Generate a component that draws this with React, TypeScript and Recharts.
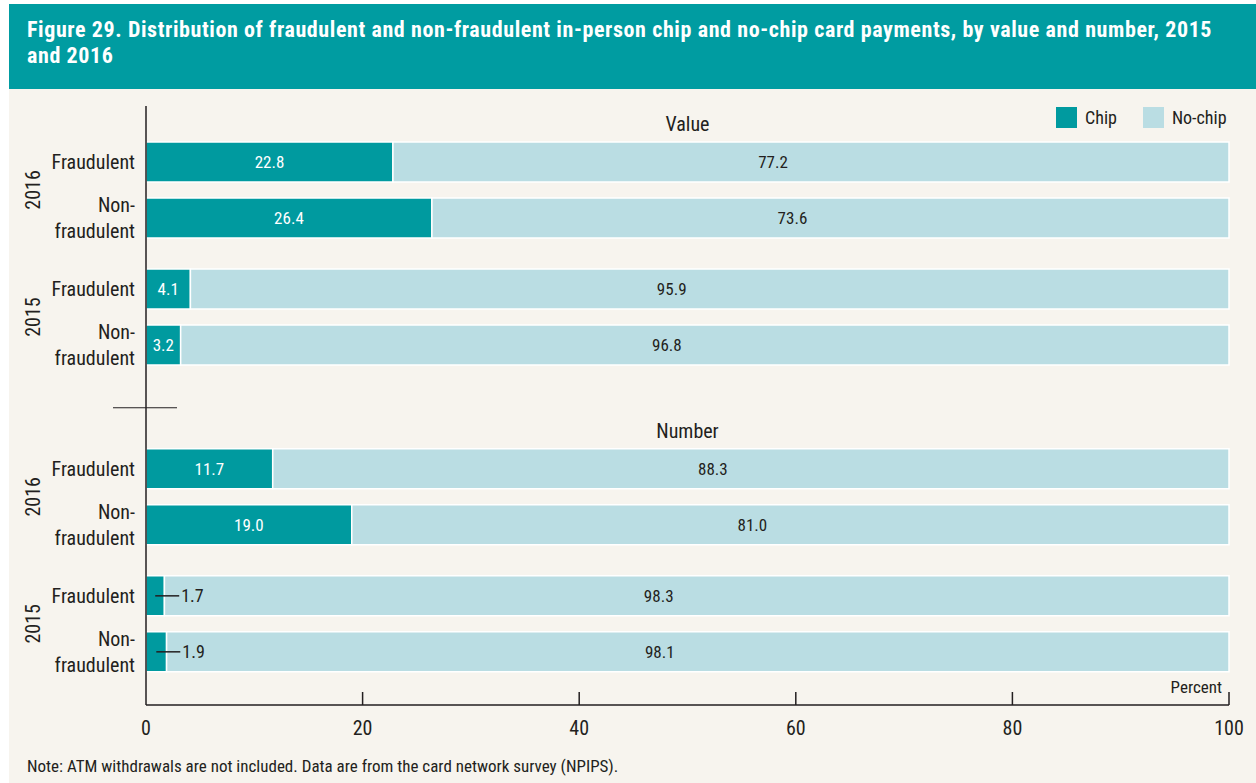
import { BarChart, Bar, XAxis, YAxis, LabelList, Legend } from 'recharts';

const panels = ['Value', 'Number'];
const years = ['2016', '2015'];
const categories = ['Fraudulent', 'Non-fraudulent'];

// order: 2016 fraudulent, 2016 non-fraudulent, 2015 fraudulent, 2015 non-fraudulent
const valueChip = [22.8, 26.4, 4.1, 3.2];
const valueNoChip = [77.2, 73.6, 95.9, 96.8];
const numberChip = [11.7, 19.0, 1.7, 1.9];
const numberNoChip = [88.3, 81.0, 98.3, 98.1];

const xTicks = [0, 20, 40, 60, 80, 100];

const CHIP = '#009a9f';
const NOCHIP = '#badde3';
const BG = '#f7f4ee';
const INK = '#231f20';
const FONT = '"Liberation Sans Narrow", "Roboto Condensed", "Arial Narrow", sans-serif';

// row spacing in row units (one unit = gap between the two rows of a year)
const YEAR_STEP = 2.27;
const PANEL_STEP = 5.48;

const chipSets = [valueChip, numberChip];
const noChipSets = [valueNoChip, numberNoChip];

const rows = panels.flatMap((panel, p) =>
  years.flatMap((year, yi) =>
    categories.map((cat, c) => {
      const i = yi * 2 + c;
      return {
        panel,
        year,
        cat,
        p,
        yi,
        c,
        pos: p * PANEL_STEP + yi * YEAR_STEP + c,
        chip: chipSets[p][i],
        nochip: noChipSets[p][i],
      };
    })
  )
);

function RowTick(props: any) {
  const { x, y, payload } = props;
  const row = rows.find((r) => Math.abs(r.pos - payload.value) < 1e-6);
  if (!row) return null;
  return (
    <g fontFamily={FONT} fontSize={20} fill={INK}>
      {row.c === 0 ? (
        <text x={x} y={y} textAnchor="end" dominantBaseline="central">
          {row.cat}
        </text>
      ) : (
        <text x={x} textAnchor="end" dominantBaseline="central">
          <tspan x={x} y={y - 13}>Non-</tspan>
          <tspan x={x} y={y + 13}>fraudulent</tspan>
        </text>
      )}
      {row.c === 0 && (
        <text
          x={33}
          y={y + 28}
          textAnchor="middle"
          dominantBaseline="central"
          transform={`rotate(-90 33 ${y + 28})`}
        >
          {row.year}
        </text>
      )}
      {row.c === 0 && row.yi === 0 && (
        <text x={687.5} y={y - 38} textAnchor="middle" dominantBaseline="central">
          {row.panel}
        </text>
      )}
      {row.p === 1 && row.c === 0 && row.yi === 0 && (
        <line x1={113} x2={177} y1={y - 61} y2={y - 61} stroke={INK} strokeWidth={1.2} />
      )}
    </g>
  );
}

function PercentTick(props: any) {
  const { x, y, payload } = props;
  return (
    <g fontFamily={FONT} fill={INK}>
      {payload.value !== 0 && <line x1={x} x2={x} y1={y} y2={y - 13} stroke={INK} strokeWidth={1.5} />}
      <text x={x} y={y + 23} textAnchor="middle" dominantBaseline="central" fontSize={20}>
        {payload.value}
      </text>
      {payload.value === 100 && (
        <text x={x - 7} y={y - 12} textAnchor="end" fontSize={17}>
          Percent
        </text>
      )}
    </g>
  );
}

function ChipLabel(props: any) {
  const { x, y, width, height, value } = props;
  const cy = y + height / 2;
  if (value < 3) {
    const cx = x + width / 2;
    return (
      <g>
        <line x1={cx} x2={cx + 24} y1={cy} y2={cy} stroke={INK} strokeWidth={1.5} />
        <text x={cx + 26} y={cy} dominantBaseline="central" fontFamily={FONT} fontSize={18} fill={INK}>
          {value.toFixed(1)}
        </text>
      </g>
    );
  }
  return (
    <text x={x + width / 2} y={cy} textAnchor="middle" dominantBaseline="central" fontFamily={FONT} fontSize={17} fill="#fff">
      {value.toFixed(1)}
    </text>
  );
}

function NoChipLabel(props: any) {
  const { x, y, width, height, value } = props;
  return (
    <text x={x + width / 2 - 38} y={y + height / 2} textAnchor="middle" dominantBaseline="central" fontFamily={FONT} fontSize={17} fill={INK}>
      {value.toFixed(1)}
    </text>
  );
}

function LegendBox() {
  const item = (color: string, label: string) => (
    <div style={{ display: 'flex', alignItems: 'center', marginRight: 26 }}>
      <div style={{ width: 21, height: 21, background: color, marginRight: 8 }} />
      <span style={{ fontFamily: FONT, fontSize: 18, color: INK }}>{label}</span>
    </div>
  );
  return (
    <div style={{ display: 'flex' }}>
      {item(CHIP, 'Chip')}
      {item(NOCHIP, 'No-chip')}
    </div>
  );
}

export default function App() {
  return (
    <div style={{ position: 'absolute', left: 0, top: 0, width: 1256, height: 783, background: '#fff', overflow: 'hidden' }}>
      <div
        style={{
          position: 'absolute',
          left: 9,
          top: 4,
          width: 1247,
          height: 85,
          background: '#009ca1',
          color: '#fff',
          fontFamily: FONT,
          fontWeight: 'bold',
          fontSize: 22,
          letterSpacing: 0.6,
          lineHeight: '26px',
          padding: '13px 18px 0 18px',
          boxSizing: 'border-box',
        }}
      >
        Figure 29. Distribution of fraudulent and non-fraudulent in-person chip and no-chip card payments, by value and number, 2015 and 2016
      </div>
      <div style={{ position: 'absolute', left: 9, top: 89, width: 1247, height: 694, background: BG }} />
      <div style={{ position: 'absolute', left: 0, top: 0 }}>
        <BarChart
          width={1256}
          height={783}
          layout="vertical"
          data={rows}
          margin={{ top: 106, right: 27, left: 0, bottom: 48 }}
          barSize={40}
        >
          <XAxis
            type="number"
            domain={[0, 100]}
            ticks={xTicks}
            interval={0}
            height={30}
            tickSize={0}
            tickMargin={0}
            tickLine={false}
            axisLine={{ stroke: INK, strokeWidth: 1.5 }}
            tick={<PercentTick />}
          />
          <YAxis
            type="number"
            dataKey="pos"
            domain={[-1, 9.7]}
            allowDataOverflow
            ticks={rows.map((r) => r.pos)}
            interval={0}
            width={146}
            tickSize={0}
            tickMargin={11}
            tickLine={false}
            axisLine={{ stroke: INK, strokeWidth: 1.5 }}
            tick={<RowTick />}
          />
          <Legend
            layout="horizontal"
            verticalAlign="middle"
            align="center"
            wrapperStyle={{ top: 107, left: 1056, width: 200 }}
            content={<LegendBox />}
          />
          <Bar dataKey="chip" stackId="s" fill={CHIP} stroke="#fff" strokeWidth={1.5} isAnimationActive={false}>
            <LabelList dataKey="chip" content={<ChipLabel />} />
          </Bar>
          <Bar dataKey="nochip" stackId="s" fill={NOCHIP} stroke="#fff" strokeWidth={1.5} isAnimationActive={false}>
            <LabelList dataKey="nochip" content={<NoChipLabel />} />
          </Bar>
        </BarChart>
      </div>
      <div style={{ position: 'absolute', left: 27, top: 756, fontFamily: FONT, fontSize: 17, color: INK }}>
        Note: ATM withdrawals are not included. Data are from the card network survey (NPIPS).
      </div>
    </div>
  );
}
